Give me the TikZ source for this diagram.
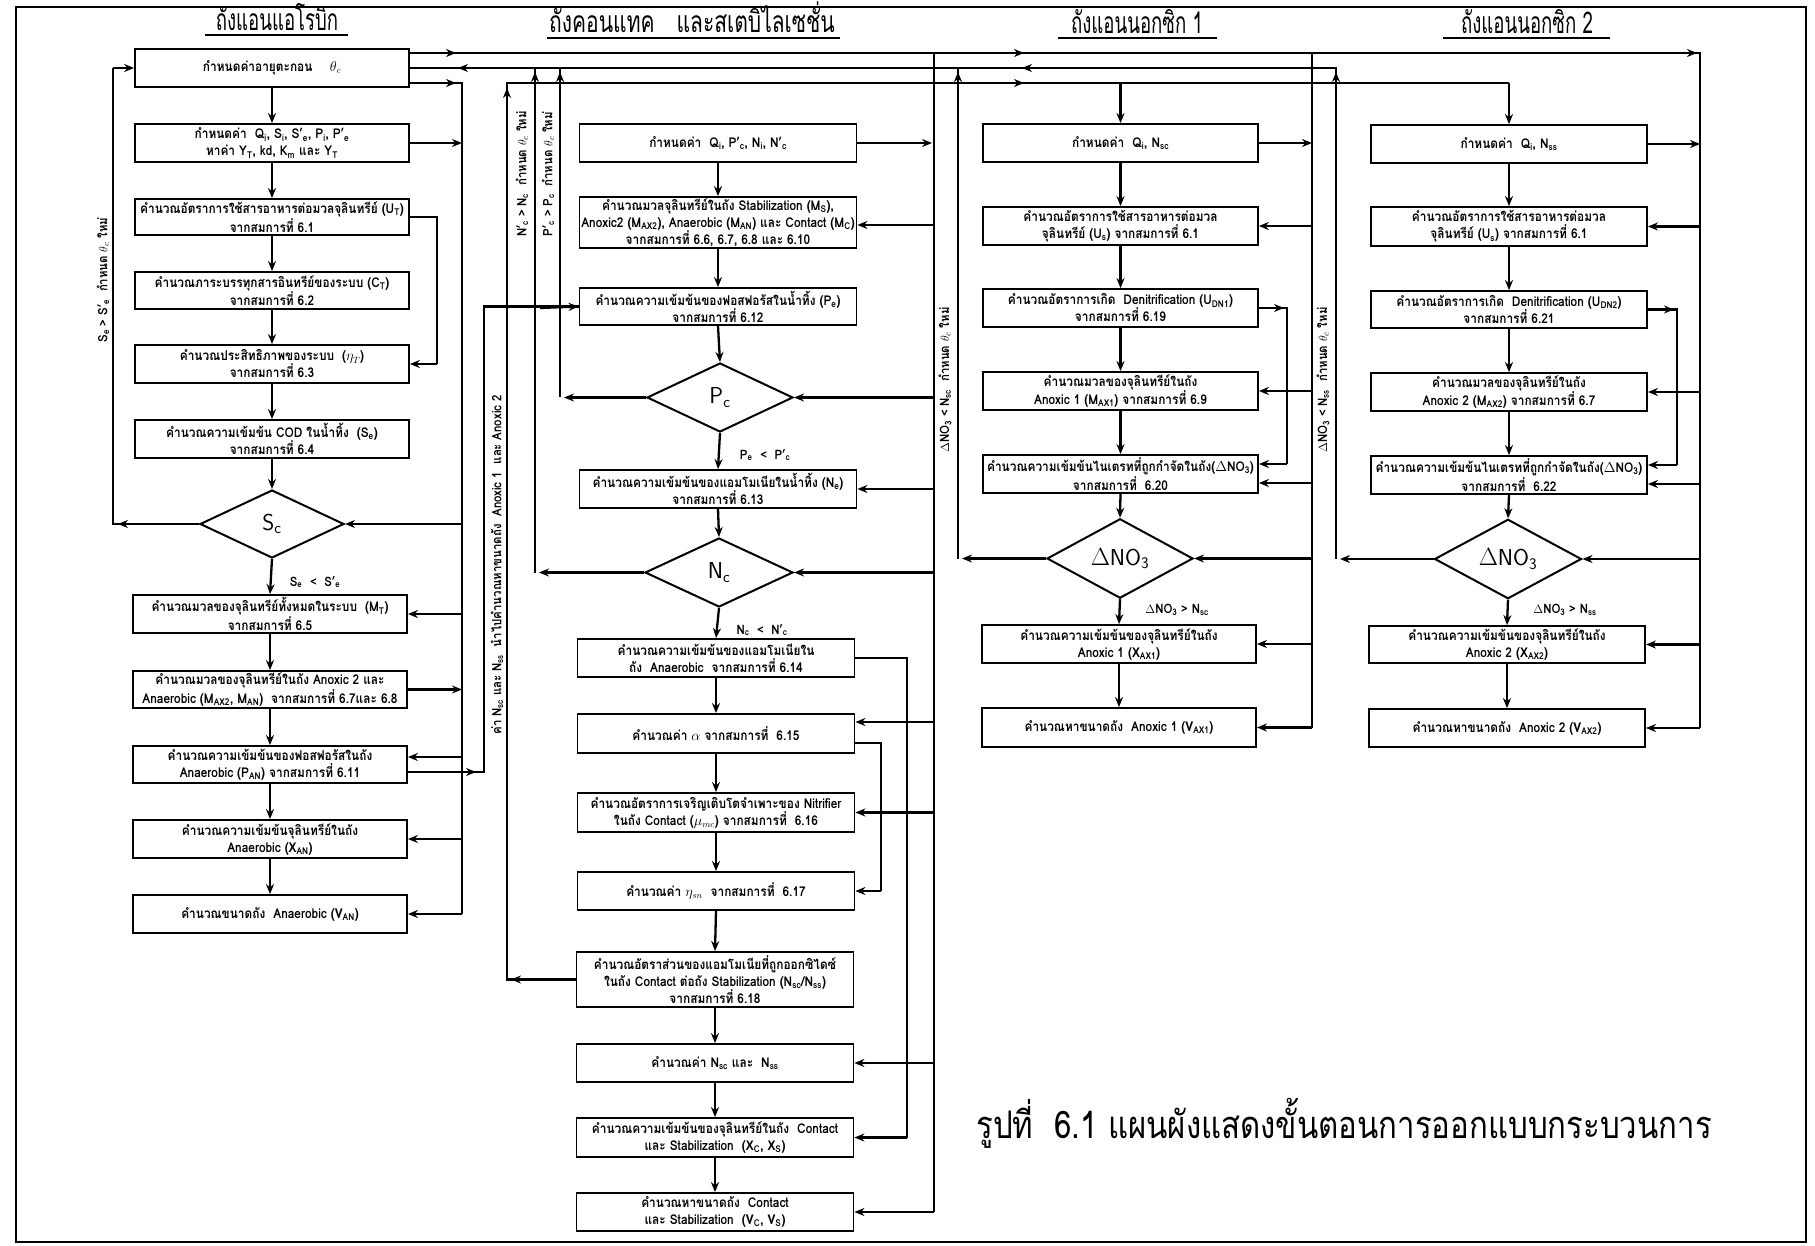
\documentclass[tikz,border=0pt]{standalone}
\usepackage{fontspec}
\setmainfont{Loma}[Script=Thai,FakeStretch=0.88]
\newfontfamily\capfont{Loma}[Script=Thai,FakeStretch=0.62]
\newfontfamily\capfontw{Loma}[Script=Thai,FakeStretch=0.70]
\newfontfamily\capbig{Loma}[Script=Thai,FakeStretch=0.82]
\usetikzlibrary{shapes.geometric,arrows.meta}
\newcommand{\sbs}[1]{\textsubscript{#1}}
\begin{document}
\begin{tikzpicture}[x=1pt,y=-1pt,
  bx/.style={draw,line width=1.8pt,minimum width=274pt,minimum height=38pt,align=center,inner sep=1pt,font=\fontsize{13.5}{17}\selectfont\bfseries},
  dia/.style={draw,diamond,line width=2pt,inner sep=0pt,minimum width=146pt,minimum height=69pt,font=\sffamily\fontsize{23}{25}\selectfont},
  ln/.style={line width=2.3pt},
  arr/.style={line width=2.3pt,-{Stealth[length=10pt,width=8pt]}},
  lab/.style={font=\fontsize{13}{15}\selectfont\bfseries,inner sep=0pt},
  rlab/.style={lab,rotate=90},
  ttl/.style={font=\capfont\fontsize{30}{32}\selectfont,inner sep=0pt,anchor=base},
  ul/.style={line width=1.6pt}]
\useasboundingbox (0,0) rectangle (1815,1246);
\draw[line width=2.5pt] (16,7) rectangle (1806,1242);

% titles
\node[ttl] (t1) at (277,31) {ถังแอนแอโรบิก};
\node[ttl,font=\capfontw\fontsize{30}{32}\selectfont] (t2) at (692,33) {ถังคอนแทค\hspace{22pt}และสเตบิไลเซชั่น};
\node[ttl] (t3) at (1137,34) {ถังแอนนอกซิก 1};
\node[ttl] (t4) at (1527,34) {ถังแอนนอกซิก 2};
\draw[ul] (205,35) -- (348,35);
\draw[ul] (547,38) -- (840,38);
\draw[ul] (1058,38) -- (1217,38);
\draw[ul] (1443,38) -- (1610,38);

% column 1
\node[bx] (b1) at (272,68) {กำหนดค่าอายุตะกอน \quad $\theta_c$};
\node[bx] (b2) at (272,143) {กำหนดค่า \ Q\sbs{i}, S\sbs{i}, S'\sbs{e}, P\sbs{i}, P'\sbs{e}\\หาค่า Y\sbs{T}, kd, K\sbs{m} และ Y\sbs{T}};
\node[bx,minimum height=36pt] (b3) at (272,217) {คำนวณอัตราการใช้สารอาหารต่อมวลจุลินทรีย์ (U\sbs{T})\\จากสมการที่ 6.1};
\node[bx,minimum height=37pt] (b4) at (272,290.5) {คำนวณภาระบรรทุกสารอินทรีย์ของระบบ (C\sbs{T})\\จากสมการที่ 6.2};
\node[bx] (b5) at (272,364) {คำนวณประสิทธิภาพของระบบ \ ($\eta_T$)\\จากสมการที่ 6.3};
\node[bx] (b6) at (272,439) {คำนวณความเข้มข้น COD ในน้ำทิ้ง \ (S\sbs{e})\\จากสมการที่ 6.4};
\node[dia,minimum width=144pt,minimum height=68pt] (dS) at (272,524) {S\textsubscript{c}};
\node[bx] (b7) at (270,614) {คำนวณมวลของจุลินทรีย์ทั้งหมดในระบบ \ (M\sbs{T})\\จากสมการที่ 6.5};
\node[bx,minimum height=37pt] (b8) at (270,689.5) {คำนวณมวลของจุลินทรีย์ในถัง Anoxic 2 และ\\Anaerobic (M\sbs{AX2}, M\sbs{AN}) \ จากสมการที่ 6.7และ 6.8};
\node[bx,minimum height=37pt] (b9) at (270,764.5) {คำนวณความเข้มข้นของฟอสฟอรัสในถัง\\Anaerobic (P\sbs{AN}) จากสมการที่ 6.11};
\node[bx] (b10) at (270,839) {คำนวณความเข้มข้นจุลินทรีย์ในถัง\\Anaerobic (X\sbs{AN})};
\node[bx] (b11) at (270,914) {คำนวณขนาดถัง \ Anaerobic (V\sbs{AN})};

\foreach \a/\b in {b1/b2,b2/b3,b3/b4,b4/b5,b5/b6,b6/dS,dS/b7,b7/b8,b8/b9,b9/b10,b10/b11}
  \draw[arr] (\a.south) -- (\b.north);

\node[lab] (cS) at (315,582) {S\sbs{e} \ < \ S'\sbs{e}};
\node[rlab] (lS) at (103,280) {S\sbs{e} > S'\sbs{e} \ กำหนด $\theta_c$ ใหม่};

% column 2
\node[bx,minimum width=277pt] (c1) at (718,143) {กำหนดค่า \ Q\sbs{i}, P'\sbs{c}, N\sbs{i}, N'\sbs{c}};
\node[bx,minimum width=277pt,minimum height=51pt] (c2) at (718,222.5) {คำนวณมวลจุลินทรีย์ในถัง Stabilization (M\sbs{S}),\\Anoxic2 (M\sbs{AX2}), Anaerobic (M\sbs{AN}) และ Contact (M\sbs{C})\\จากสมการที่ 6.6, 6.7, 6.8 และ 6.10};
\node[bx,minimum width=277pt,minimum height=37pt] (c3) at (718,306.5) {คำนวณความเข้มข้นของฟอสฟอรัสในน้ำทิ้ง (P\sbs{e})\\จากสมการที่ 6.12};
\node[dia] (dP) at (720,397.5) {P\textsubscript{c}};
\node[bx,minimum width=277pt] (c4) at (718,489) {คำนวณความเข้มข้นของแอมโมเนียในน้ำทิ้ง (N\sbs{e})\\จากสมการที่ 6.13};
\node[dia,minimum width=148pt] (dN) at (719,572.5) {N\textsubscript{c}};
\node[bx,minimum width=277pt] (c5) at (716,658) {คำนวณความเข้มข้นของแอมโมเนียใน\\ถัง \ Anaerobic \ จากสมการที่ 6.14};
\node[bx,minimum width=277pt,minimum height=39pt] (c6) at (716,733.5) {คำนวณค่า $\alpha$ จากสมการที่ \ 6.15};
\node[bx,minimum width=277pt,minimum height=39pt] (c7) at (716,812.5) {คำนวณอัตราการเจริญเติบโตจำเพาะของ Nitrifier\\ในถัง Contact ($\mu_{mc}$) จากสมการที่ \ 6.16};
\node[bx,minimum width=277pt] (c8) at (716,891) {คำนวณค่า $\eta_{sn}$ \ จากสมการที่ \ 6.17};
\node[bx,minimum width=277pt,minimum height=55pt] (c9) at (715,979.5) {คำนวณอัตราส่วนของแอมโมเนียที่ถูกออกซิไดซ์\\ในถัง Contact ต่อถัง Stabilization (N\sbs{sc}/N\sbs{ss})\\จากสมการที่ 6.18};
\node[bx,minimum width=277pt] (c10) at (715,1063) {คำนวณค่า N\sbs{sc} และ \ N\sbs{ss}};
\node[bx,minimum width=277pt,minimum height=39pt] (c11) at (715,1137.5) {คำนวณความเข้มข้นของจุลินทรีย์ในถัง \ Contact\\และ Stabilization \ (X\sbs{C}, X\sbs{S})};
\node[bx,minimum width=277pt] (c12) at (715,1212) {คำนวณหาขนาดถัง \ Contact\\และ Stabilization \ (V\sbs{C}, V\sbs{S})};

\foreach \a/\b in {c1/c2,c2/c3,c3/dP,dP/c4,c4/dN,dN/c5,c5/c6,c6/c7,c7/c8,c8/c9,c9/c10,c10/c11,c11/c12}
  \draw[arr] (\a.south) -- (\b.north);

\node[lab] (cP) at (765,455) {P\sbs{e} \ < \ P'\sbs{c}};
\node[lab] (cN) at (762,630) {N\sbs{c} \ < \ N'\sbs{c}};
\node[rlab] (lN) at (522,174) {N'\sbs{c} > N\sbs{c} \ กำหนด $\theta_c$ ใหม่};
\node[rlab] (lP) at (548,174) {P'\sbs{c} > P\sbs{c} \ กำหนด $\theta_c$ ใหม่};
\node[rlab] (lX) at (497,565) {ค่า N\sbs{sc} และ N\sbs{ss} \ นำไปคำนวณหาขนาดถัง \ Anoxic 1 \ และ Anoxic 2};

% column 3
\node[bx,minimum width=275pt] (a1) at (1120.5,143) {กำหนดค่า \ Q\sbs{i}, N\sbs{sc}};
\node[bx,minimum width=275pt] (a2) at (1120.5,226) {คำนวณอัตราการใช้สารอาหารต่อมวล\\จุลินทรีย์ (U\sbs{s}) จากสมการที่ 6.1};
\node[bx,minimum width=275pt] (a3) at (1120.5,308) {คำนวณอัตราการเกิด \ Denitrification (U\sbs{DN1})\\จากสมการที่ 6.19};
\node[bx,minimum width=275pt] (a4) at (1120.5,391) {คำนวณมวลของจุลินทรีย์ในถัง\\Anoxic 1 (M\sbs{AX1}) จากสมการที่ 6.9};
\node[bx,minimum width=275pt] (a5) at (1120.5,474) {คำนวณความเข้มข้นไนเตรทที่ถูกกำจัดในถัง($\Delta$NO\sbs{3})\\จากสมการที่ \ 6.20};
\node[dia] (dA) at (1120,558.5) {$\Delta$NO\textsubscript{3}};
\node[bx,minimum width=274pt] (a6) at (1119,644) {คำนวณความเข้มข้นของจุลินทรีย์ในถัง\\Anoxic 1 (X\sbs{AX1})};
\node[bx,minimum width=274pt,minimum height=39pt] (a7) at (1119,727.5) {คำนวณหาขนาดถัง \ Anoxic 1 (V\sbs{AX1})};

\foreach \a/\b in {a1/a2,a2/a3,a3/a4,a4/a5,a5/dA,dA/a6,a6/a7}
  \draw[arr] (\a.south) -- (\b.north);

\node[lab] (cA) at (1177,610) {$\Delta$NO\sbs{3} > N\sbs{sc}};
\node[rlab] (lA) at (945,380) {$\Delta$NO\sbs{3} < N\sbs{sc} \ กำหนด $\theta_c$ ใหม่};

% column 4
\node[bx,minimum width=276pt] (e1) at (1509,144) {กำหนดค่า \ Q\sbs{i}, N\sbs{ss}};
\node[bx,minimum width=276pt,minimum height=39pt] (e2) at (1509,226.5) {คำนวณอัตราการใช้สารอาหารต่อมวล\\จุลินทรีย์ (U\sbs{s}) จากสมการที่ 6.1};
\node[bx,minimum width=276pt,minimum height=37pt] (e3) at (1509,309.5) {คำนวณอัตราการเกิด \ Denitrification (U\sbs{DN2})\\จากสมการที่ 6.21};
\node[bx,minimum width=276pt] (e4) at (1509,392) {คำนวณมวลของจุลินทรีย์ในถัง\\Anoxic 2 (M\sbs{AX2}) จากสมการที่ 6.7};
\node[bx,minimum width=276pt] (e5) at (1509,475) {คำนวณความเข้มข้นไนเตรทที่ถูกกำจัดในถัง($\Delta$NO\sbs{3})\\จากสมการที่ \ 6.22};
\node[dia,minimum width=147pt,minimum height=68pt] (dB) at (1508,559) {$\Delta$NO\textsubscript{3}};
\node[bx,minimum width=276pt,minimum height=37pt] (e6) at (1507,644.5) {คำนวณความเข้มข้นของจุลินทรีย์ในถัง\\Anoxic 2 (X\sbs{AX2})};
\node[bx,minimum width=276pt] (e7) at (1507,728) {คำนวณหาขนาดถัง \ Anoxic 2 (V\sbs{AX2})};

\foreach \a/\b in {e1/e2,e2/e3,e3/e4,e4/e5,e5/dB,dB/e6,e6/e7}
  \draw[arr] (\a.south) -- (\b.north);

\node[lab] (cB) at (1565,610) {$\Delta$NO\sbs{3} > N\sbs{ss}};
\node[rlab] (lB) at (1323,380) {$\Delta$NO\sbs{3} < N\sbs{ss} \ กำหนด $\theta_c$ ใหม่};

% caption
\node[ttl,font=\capbig\fontsize{38}{40}\selectfont] (cap) at (1344,1138) {รูปที่ \ 6.1 แผนผังแสดงขั้นตอนการออกแบบกระบวนการ};

% ---------- coordinates of buses
\coordinate (T53) at (0,53);
\coordinate (T68) at (0,68);
\coordinate (T83) at (0,83);
\coordinate (bus1) at (462,0);
\coordinate (side1) at (437,0);
\coordinate (fbS) at (113,0);
\coordinate (px) at (484,0);
\coordinate (nx) at (507,0);
\coordinate (fbN) at (535,0);
\coordinate (fbP) at (560,0);
\coordinate (side2) at (881,0);
\coordinate (side2b) at (907,0);
\coordinate (bus2) at (934,0);
\coordinate (fbA) at (958,0);
\coordinate (side3) at (1287,0);
\coordinate (bus3) at (1312,0);
\coordinate (fbB) at (1336,0);
\coordinate (side4) at (1677,0);
\coordinate (bus4) at (1700,0);

% top line y=53
\draw[ln] (b1.east |- T53) -- (bus4 |- T53) -- (bus4 |- e7.east);
\draw[arr] (b1.east |- T53) -- (456,53);
\draw[arr] (990,53) -- (1024,53);
\draw[arr] (1650,53) -- (1697,53);
\draw[ln] (bus3 |- T53) -- (bus3 |- a7.east);
\draw[ln] (bus2 |- T53) -- (bus2 |- c12.east);

% line y=68
\draw[ln] (fbB |- dB.west) -- (fbB |- T68) -- (b1.east |- T68);
\draw[arr] (490,68) -- (458,68);
\draw[arr] (1060,68) -- (1022,68);
\draw[arr] (dB.west) -- ([xshift=4pt]fbB |- dB.west);
\draw[arr] (fbB |- 0,110) -- (fbB |- 0,72);
\draw[ln] (fbA |- dA.west) -- (fbA |- T68);
\draw[arr] (dA.west) -- ([xshift=4pt]fbA |- dA.west);
\draw[arr] (fbA |- 0,110) -- (fbA |- 0,72);
\draw[ln] (fbP |- dP.west) -- (fbP |- T68);
\draw[arr] (dP.west) -- ([xshift=4pt]fbP |- dP.west);
\draw[arr] (fbP |- 0,110) -- (fbP |- 0,72);
\draw[ln] (fbN |- dN.west) -- (fbN |- T68);
\draw[arr] (dN.west) -- ([xshift=4pt]fbN |- dN.west);
\draw[arr] (fbN |- 0,110) -- (fbN |- 0,72);

% S feedback
\draw[ln] (dS.west) -- (fbS |- dS.west) -- (fbS |- b1.west);
\draw[arr] (dS.west) -- ([xshift=5pt]fbS |- dS.west);
\draw[arr] (fbS |- b1.west) -- (b1.west);

% bus 1
\draw[ln] (b1.east |- T83) -- (bus1 |- T83) -- (bus1 |- b11.east);
\draw[arr] (b1.east |- T83) -- (456,83);
\draw[arr] (b2.east) -- (bus1 |- b2.east);
\draw[arr] (b8.east) -- (bus1 |- b8.east);
\draw[arr] (bus1 |- dS.east) -- (dS.east);
\draw[arr] (bus1 |- b7.east) -- (b7.east);
\draw[arr] (bus1 |- 0,757) -- ([yshift=7.5pt]b9.east);
\draw[arr] (bus1 |- b10.east) -- (b10.east);
\draw[arr] (bus1 |- b11.east) -- (b11.east);
% side b3 -> b5
\draw[ln] (b3.east) -- (side1 |- b3.east) -- (side1 |- b5.east);
\draw[arr] (side1 |- b5.east) -- (b5.east);
% b9 -> c3
\draw[ln] ([yshift=-7.5pt]b9.east) -- (px |- 0,772) -- (px |- c3.west) -- (c3.west);
\draw[arr] ([yshift=-7.5pt]b9.east) -- (476,772);
\draw[arr] (540,308) -- (c3.west);

% N line (c9 -> anoxic tanks)
\draw[ln] (c9.west) -- (nx |- c9.west) -- (nx |- T83) -- (e1.north |- T83);
\draw[arr] (c9.west) -- ([xshift=4pt]nx |- c9.west);
\draw[arr] (nx |- 0,120) -- (nx |- 0,88);
\draw[arr] (990,83) -- (1024,83);
\draw[arr] (a1.north |- T83) -- (a1.north);
\draw[arr] (e1.north |- T83) -- (e1.north);

% bus 2
\draw[arr] (c1.east) -- ([xshift=-2pt]bus2 |- c1.east);
\draw[arr] (bus2 |- 0,225) -- (c2.east |- 0,225);
\draw[arr] (bus2 |- dP.east) -- (dP.east);
\draw[arr] (bus2 |- c4.east) -- (c4.east);
\draw[arr] (bus2 |- dN.east) -- (dN.east);
\draw[arr] (bus2 |- 0,722) -- (c6.east |- 0,722);
\draw[arr] (bus2 |- c7.east) -- (c7.east);
\draw[arr] (bus2 |- c10.east) -- (c10.east);
\draw[arr] (bus2 |- c12.east) -- (c12.east);
\draw[ln] (c5.east) -- (side2b |- c5.east) -- (side2b |- c11.east);
\draw[arr] (side2b |- c11.east) -- (c11.east);
\draw[ln] (c6.east |- 0,743) -- (side2 |- 0,743) -- (side2 |- c8.east);
\draw[arr] (side2 |- c8.east) -- (c8.east);

% bus 3
\draw[arr] (a1.east) -- (bus3 |- a1.east);
\draw[arr] (bus3 |- a2.east) -- (a2.east);
\draw[arr] (bus3 |- a4.east) -- (a4.east);
\draw[arr] (bus3 |- 0,483) -- (a5.east |- 0,483);
\draw[arr] (bus3 |- dA.east) -- (dA.east);
\draw[arr] (bus3 |- a6.east) -- (a6.east);
\draw[arr] (bus3 |- a7.east) -- (a7.east);
\draw[ln] (a3.east) -- (side3 |- a3.east) -- (side3 |- 0,464);
\draw[arr] (a3.east) -- ([xshift=-3pt]side3 |- a3.east);
\draw[arr] (side3 |- 0,464) -- (a5.east |- 0,464);

% bus 4
\draw[arr] (e1.east) -- (bus4 |- e1.east);
\draw[arr] (bus4 |- e2.east) -- (e2.east);
\draw[arr] (bus4 |- e4.east) -- (e4.east);
\draw[arr] (bus4 |- 0,484) -- (e5.east |- 0,484);
\draw[arr] (bus4 |- dB.east) -- (dB.east);
\draw[arr] (bus4 |- e6.east) -- (e6.east);
\draw[arr] (bus4 |- e7.east) -- (e7.east);
\draw[ln] (e3.east) -- (side4 |- e3.east) -- (side4 |- 0,465);
\draw[arr] (e3.east) -- ([xshift=-3pt]side4 |- e3.east);
\draw[arr] (side4 |- 0,465) -- (e5.east |- 0,465);
\end{tikzpicture}
\end{document}
